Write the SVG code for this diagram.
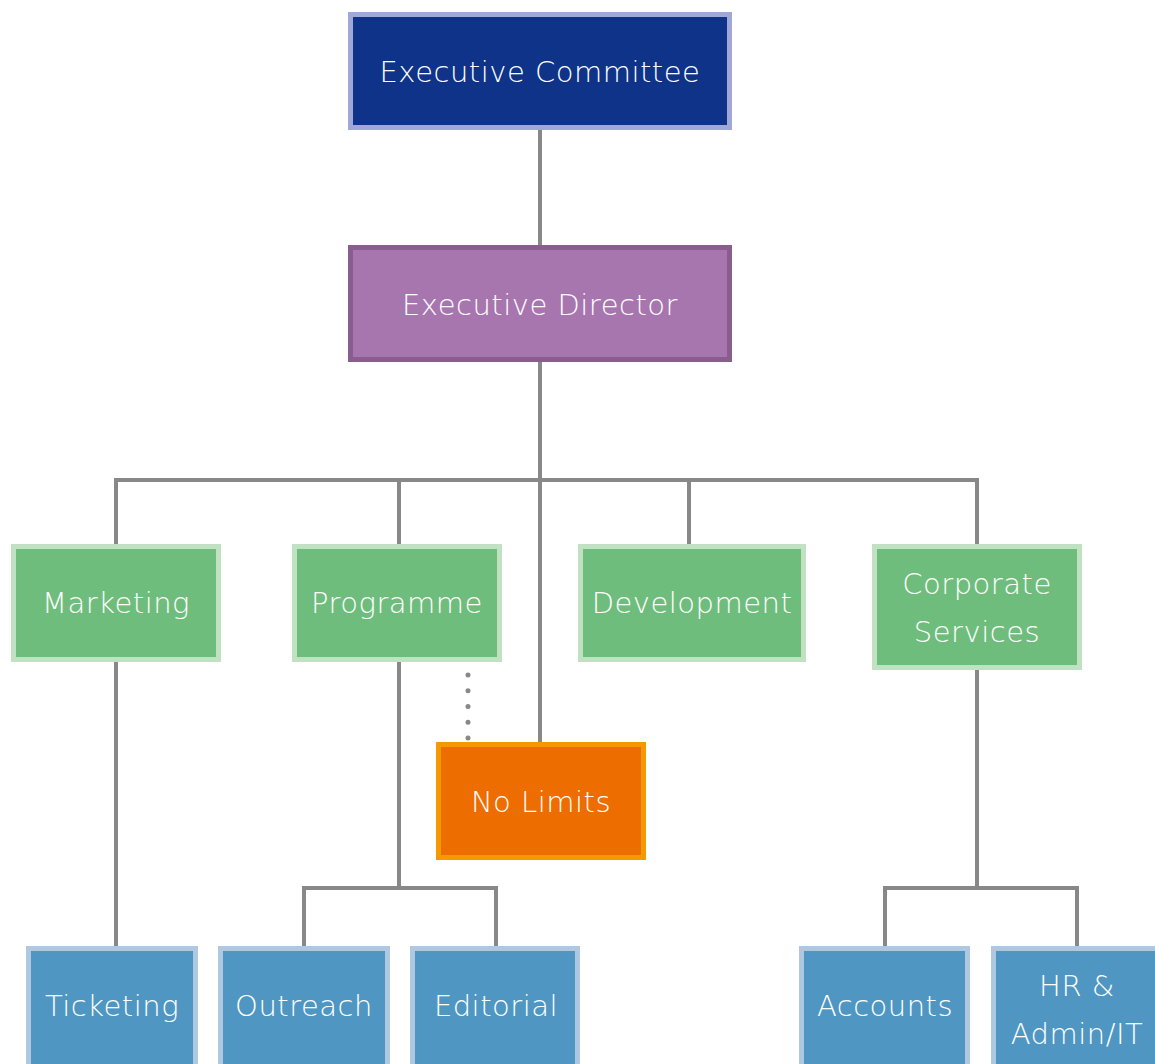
<svg xmlns="http://www.w3.org/2000/svg" width="1155" height="1064" viewBox="0 0 1155 1064">
<style>
.box{stroke-width:5}
.exec{fill:#0e3389;stroke:#a0a8d7}
.dir{fill:#a776af;stroke:#8a5d8f}
.dept{fill:#6fbd7d;stroke:#c0e1c2}
.proj{fill:#ed6d00;stroke:#f49a00}
.team{fill:#4f97c2;stroke:#aec8e2}
text{font-family:"DejaVu Sans","Liberation Sans",sans-serif;font-size:29px;font-weight:300;letter-spacing:0.5px;fill:#ffffff;text-anchor:middle}
.conn{fill:none;stroke:#888888;stroke-width:4}
.dots{fill:none;stroke:#888888;stroke-width:5;stroke-linecap:round;stroke-dasharray:0 15.75}
</style>
<rect width="1155" height="1064" fill="#ffffff"/>
<g id="connectors">
<path class="conn" d="M540 130V245"/>
<path class="conn" d="M540 362V742"/>
<path class="conn" d="M116 544V480H977V544"/>
<path class="conn" d="M399 480V544"/>
<path class="conn" d="M689 480V544"/>
<path class="conn" d="M116 662V946"/>
<path class="conn" d="M399 662V888"/>
<path class="conn" d="M304 946V888H496V946"/>
<path class="conn" d="M977 670V888"/>
<path class="conn" d="M885 946V888H1077V946"/>
<path class="dots" d="M468 675V740"/>
</g>
<g id="executive-committee">
<rect class="box exec" x="350.5" y="14.5" width="379" height="113"/>
<text x="540" y="82">Executive Committee</text>
</g>
<g id="executive-director">
<rect class="box dir" x="350.5" y="247.5" width="379" height="112"/>
<text x="540" y="315">Executive Director</text>
</g>
<g id="marketing">
<rect class="box dept" x="13.5" y="546.5" width="205" height="113"/>
<text x="116" y="613">Marketing</text>
</g>
<g id="programme">
<rect class="box dept" x="294.5" y="546.5" width="205" height="113"/>
<text x="397" y="613">Programme</text>
</g>
<g id="development">
<rect class="box dept" x="580.5" y="546.5" width="223" height="113"/>
<text x="692" y="613">Development</text>
</g>
<g id="corporate-services">
<rect class="box dept" x="874.5" y="546.5" width="205" height="121"/>
<text x="977" y="594">Corporate</text>
<text x="977" y="642">Services</text>
</g>
<g id="no-limits">
<rect class="box proj" x="438.5" y="744.5" width="205" height="113"/>
<text x="541" y="812">No Limits</text>
</g>
<g id="ticketing">
<rect class="box team" x="28.5" y="948.5" width="167" height="130"/>
<text x="112" y="1016">Ticketing</text>
</g>
<g id="outreach">
<rect class="box team" x="220.5" y="948.5" width="167" height="130"/>
<text x="304" y="1016">Outreach</text>
</g>
<g id="editorial">
<rect class="box team" x="412.5" y="948.5" width="165" height="130"/>
<text x="496" y="1016">Editorial</text>
</g>
<g id="accounts">
<rect class="box team" x="801.5" y="948.5" width="166" height="130"/>
<text x="885" y="1016">Accounts</text>
</g>
<g id="hr-admin-it">
<rect class="box team" x="993.5" y="948.5" width="166" height="130"/>
<text x="1077" y="996">HR &amp;</text>
<text x="1077" y="1044">Admin/IT</text>
</g>
</svg>
